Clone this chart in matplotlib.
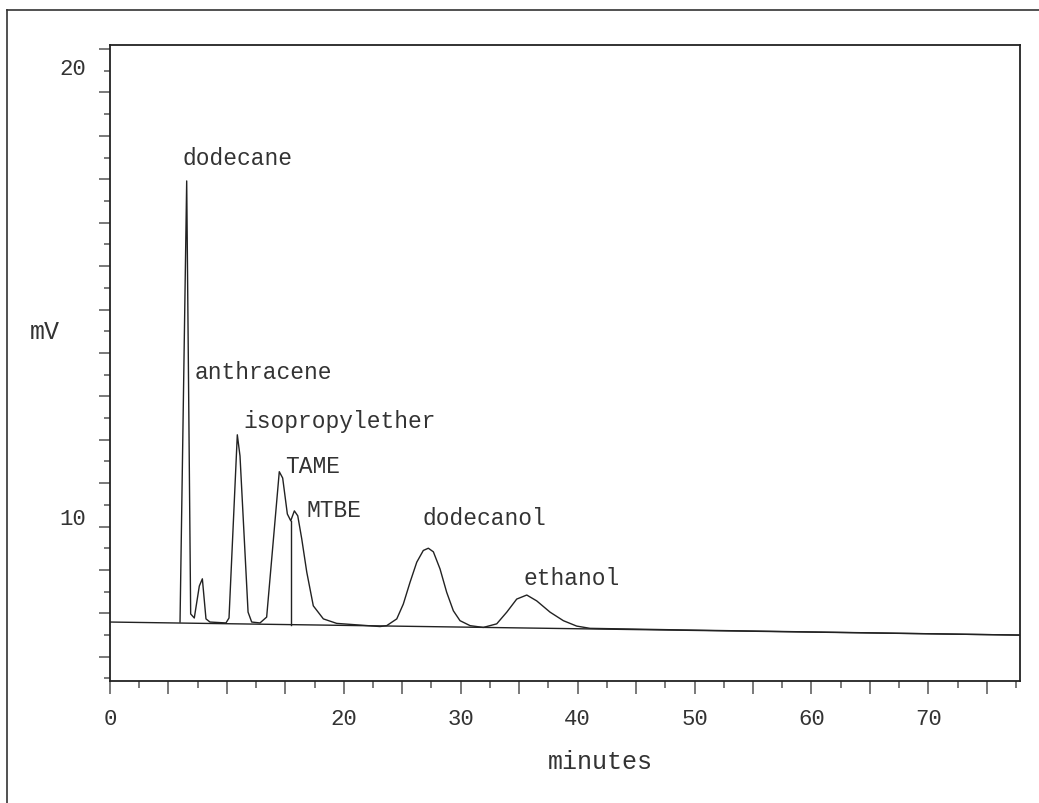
import numpy as np
import matplotlib.pyplot as plt
from matplotlib.lines import Line2D

# chromatogram trace (minutes, mV)
trace_t = [5.99, 6.56, 6.90, 7.21, 7.64, 7.90, 8.21, 8.55, 9.92, 10.18,
           10.89, 11.12, 11.81, 12.12, 12.83, 13.40, 14.48, 14.77, 15.17, 15.46,
           15.77, 16.06, 16.40, 16.83, 17.39, 18.25, 19.39, 23.10, 23.67, 24.53,
           25.09, 25.66, 26.24, 26.80, 27.23, 27.66, 28.23, 28.80, 29.37, 29.94,
           30.80, 31.93, 33.08, 33.94, 34.79, 35.65, 36.50, 37.64, 38.78, 39.92,
           41.06, 50.0, 60.0, 70.0, 77.84]
trace_mv = [7.71, 17.51, 7.89, 7.80, 8.51, 8.67, 7.78, 7.71, 7.69, 7.80,
            11.87, 11.40, 7.93, 7.71, 7.69, 7.82, 11.05, 10.91, 10.11, 9.96,
            10.18, 10.07, 9.56, 8.82, 8.07, 7.78, 7.68, 7.61, 7.63, 7.78,
            8.11, 8.59, 9.04, 9.30, 9.35, 9.27, 8.89, 8.37, 7.96, 7.74,
            7.63, 7.59, 7.67, 7.93, 8.22, 8.31, 8.18, 7.93, 7.74, 7.62,
            7.57, 7.53, 7.49, 7.45, 7.42]

# integration baseline
base_t = [0.0, 77.84]
base_mv = [7.71, 7.42]

# drop line at the TAME / MTBE valley
drop_t = [15.46]
drop_top = [9.96]

peak_names = ["dodecane", "anthracene", "isopropylether", "TAME", "MTBE",
              "dodecanol", "ethanol"]
name_t = [6.24, 7.27, 11.38, 14.97, 16.85, 26.69, 35.41]
name_mv = [18.04, 13.27, 12.18, 11.18, 10.22, 10.04, 8.69]

x_major = np.arange(0, 76, 5)
x_minor = np.arange(2.5, 78, 5)
x_labels = {0: "0", 20: "20", 30: "30", 40: "40", 50: "50", 60: "60", 70: "70"}
y_labels = [10, 20]

font = "Liberation Mono"
txt_col = "#333333"

fig = plt.figure(figsize=(10.39, 8.04), dpi=100)
ax = fig.add_axes([110 / 1039, 1 - 682 / 804, 910 / 1039, 636 / 804])

ax.plot(base_t, base_mv, color="#222222", lw=1.0)
ax.plot(trace_t, trace_mv, color="#222222", lw=1.0)
for t, top in zip(drop_t, drop_top):
    yb = np.interp(t, base_t, base_mv)
    ax.plot([t, t], [yb, top], color="#222222", lw=1.0)

for name, t, v in zip(peak_names, name_t, name_mv):
    ax.text(t, v, name, ha="left", va="center", fontsize=16.5,
            family=font, color=txt_col)

ax.set_xlim(0, 77.84)
ax.set_ylim(6.4, 20.53)

ax.set_xticks(x_major)
ax.set_xticklabels([x_labels.get(int(v), "") for v in x_major])
ax.set_xticks(x_minor, minor=True)

# y ticks: long/short alternating, labels placed separately
y_long = np.arange(20.44, 6.4, -0.9644)
y_short = y_long - 0.4822
ax.set_yticks(y_long)
ax.set_yticklabels([])
ax.set_yticks(y_short[y_short > 6.4], minor=True)

ax.tick_params(axis="x", which="major", length=9.5, width=1.1, color="#555555",
               pad=10, labelsize=16, labelcolor=txt_col)
ax.tick_params(axis="x", which="minor", length=5, width=1.1, color="#555555")
ax.tick_params(axis="y", which="major", length=8, width=1.1, color="#555555")
ax.tick_params(axis="y", which="minor", length=4.5, width=1.1, color="#555555")
for lab in ax.get_xticklabels():
    lab.set_family(font)

for v in y_labels:
    ax.annotate(str(v), xy=(0, v), xycoords=("axes fraction", "data"),
                xytext=(-24, 0), textcoords="offset pixels", ha="right",
                va="center", fontsize=16, family=font, color=txt_col)

for s in ax.spines.values():
    s.set_linewidth(1.3)
    s.set_color("#222222")

ax.text(-65 / 910, 350 / 636, "mV", transform=ax.transAxes, ha="center",
        va="center", fontsize=18, family=font, color=txt_col)
ax.text(490 / 910, -80 / 636, "minutes", transform=ax.transAxes, ha="center",
        va="center", fontsize=18, family=font, color=txt_col)

# outer frame (only top and left edges show)
fig.add_artist(Line2D([7 / 1039, 1.0], [1 - 11 / 804, 1 - 11 / 804],
                      color="#333333", lw=1.2))
fig.add_artist(Line2D([7 / 1039, 7 / 1039], [0.0, 1 - 11 / 804],
                      color="#333333", lw=1.2))

fig.savefig("out.png", dpi=100)
